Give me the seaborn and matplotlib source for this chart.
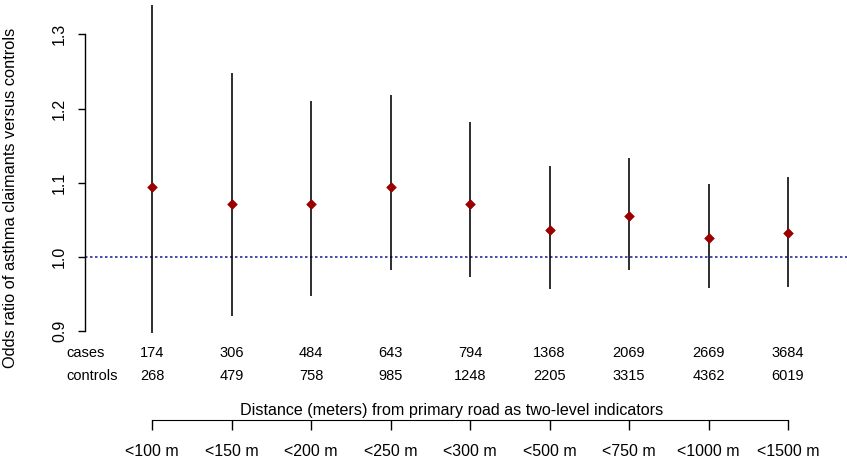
import matplotlib
matplotlib.use("Agg")
import matplotlib.pyplot as plt
import matplotlib.transforms as mtransforms
import seaborn as sns
import pandas as pd

sns.set_style("white")
plt.rcParams['font.family'] = ['Liberation Sans', 'DejaVu Sans']
plt.rcParams.update({"text.color": "black", "axes.labelcolor": "black",
                     "xtick.color": "black", "ytick.color": "black"})

categories = ["<100 m", "<150 m", "<200 m", "<250 m", "<300 m", "<500 m", "<750 m", "<1000 m", "<1500 m"]
odds_ratio = [1.094, 1.071, 1.071, 1.094, 1.072, 1.036, 1.055, 1.026, 1.032]
ci_lower = [0.898, 0.921, 0.947, 0.982, 0.973, 0.957, 0.982, 0.958, 0.960]
ci_upper = [1.360, 1.248, 1.210, 1.218, 1.182, 1.122, 1.133, 1.098, 1.108]
cases = [174, 306, 484, 643, 794, 1368, 2069, 2669, 3684]
controls = [268, 479, 758, 985, 1248, 2205, 3315, 4362, 6019]
y_ticks = [0.9, 1.0, 1.1, 1.2, 1.3]

W, H = 847, 463
fig = plt.figure(figsize=(W / 100, H / 100), dpi=100)

def px_axes(left, top, right, bottom):
    return [left / W, 1 - bottom / H, (right - left) / W, (bottom - top) / H]

ax = fig.add_axes(px_axes(85, 5, 847, 340))
pos = list(range(1, len(categories) + 1))
df = pd.DataFrame({"pos": pos, "or": odds_ratio, "lo": ci_lower, "hi": ci_upper})

step = 79.5
ax.set_xlim(1 - (152 - 85) / step, 1 + (847 - 152) / step)
ax.set_ylim(1.0 - (340 - 257) / 742.5, 1.0 + (257 - 5) / 742.5)

ax.axhline(1.0, color="#2a2aa0", linestyle=(0, (1.5, 1.5)), lw=1.2, zorder=1)
ax.vlines(df["pos"], df["lo"], df["hi"], color="black", lw=1.15, zorder=2)
sns.scatterplot(data=df, x="pos", y="or", marker="D", s=24, color="#9b0000",
                edgecolor="#9b0000", linewidth=0.5, ax=ax, zorder=3, legend=False)

for s in ["top", "right", "bottom"]:
    ax.spines[s].set_visible(False)
ax.spines["left"].set_bounds(0.9, 1.3)
ax.spines["left"].set_color("black")
ax.spines["left"].set_linewidth(1.0)
ax.set_xticks([])
ax.set_yticks(y_ticks)
ax.set_yticklabels([f"{v:.1f}" for v in y_ticks], rotation=90, va="center", fontsize=11.5)
ax.tick_params(axis="y", direction="out", length=5, width=1.0, color="black", pad=8, left=True)
ax.set_xlabel("")
ax.set_ylabel("Odds ratio of asthma claimants versus controls", fontsize=11.8)
ax.yaxis.set_label_coords(-(85 - 18) / (847 - 85), (340 - 198) / 335)

trans = mtransforms.blended_transform_factory(ax.transData, fig.transFigure)
fig.text(66 / W, 1 - 353 / H, "cases", fontsize=10.5, ha="left", va="center")
fig.text(66 / W, 1 - 376 / H, "controls", fontsize=10.5, ha="left", va="center")
for p, c, k in zip(pos, cases, controls):
    ax.text(p, 1 - 353 / H, str(c), transform=trans, fontsize=10.5, ha="center", va="center", clip_on=False)
    ax.text(p, 1 - 376 / H, str(k), transform=trans, fontsize=10.5, ha="center", va="center", clip_on=False)

ax2 = fig.add_axes(px_axes(85, 419, 847, 420))
ax2.set_xlim(ax.get_xlim())
ax2.set_ylim(0, 1)
for s in ["top", "right", "left"]:
    ax2.spines[s].set_visible(False)
ax2.spines["bottom"].set_bounds(1, len(categories))
ax2.spines["bottom"].set_color("black")
ax2.set_yticks([])
ax2.set_xticks(pos)
ax2.set_xticklabels(categories, fontsize=11.5)
ax2.tick_params(axis="x", direction="out", length=7.2, width=1.0, color="black", pad=10, bottom=True)
ax2.patch.set_alpha(0)
fig.text(452 / W, 1 - 410 / H, "Distance (meters) from primary road as two-level indicators",
         fontsize=11.6, ha="center", va="center")

fig.savefig("out.png", dpi=100)
